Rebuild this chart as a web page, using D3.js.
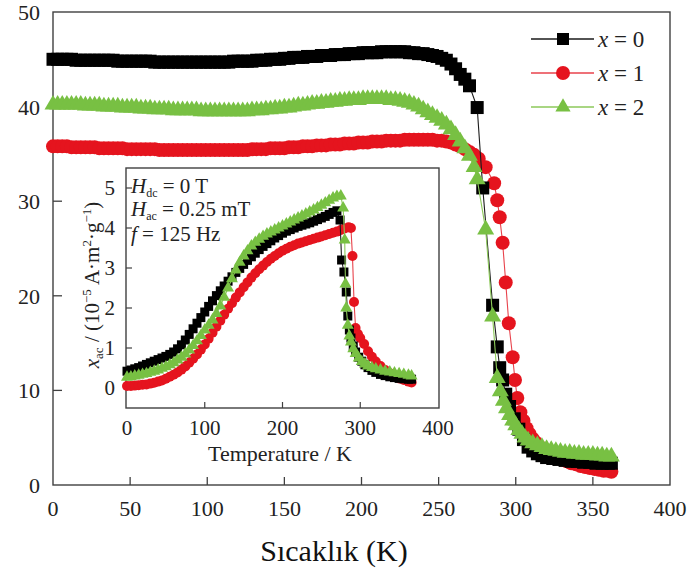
<!DOCTYPE html>
<html>
<head>
<meta charset="utf-8">
<script src="https://cdn.jsdelivr.net/npm/d3@7"></script>
<style>
  body { margin: 0; background: #fff; }
  svg { display: block; }
</style>
</head>
<body>
<script>
// ---- main plot data (temperature in K, value) ----
// shared temperature grid for the flat part, 0..255 K
const mainGrid = [
  0,3,6,9,12,15,18,21,24,27,
  30,33,36,39,42,45,48,51,54,57,
  60,63,66,69,72,75,78,81,84,87,
  90,93,96,99,102,105,108,111,114,117,
  120,123,126,129,132,135,138,141,144,147,
  150,153,156,159,162,165,168,171,174,177,
  180,183,186,189,192,195,198,201,204,207,
  210,213,216,219,222,225,228,231,234,237,
  240,243,246,249,252,255
]
const mainX0 = [
  45.0,45.0,45.0,45.0,45.0,44.9,44.9,44.9,44.9,44.9,
  44.9,44.9,44.9,44.9,44.8,44.8,44.8,44.8,44.8,44.8,
  44.8,44.8,44.7,44.7,44.7,44.7,44.7,44.7,44.7,44.7,
  44.7,44.7,44.7,44.7,44.7,44.7,44.7,44.7,44.7,44.8,
  44.8,44.8,44.8,44.8,44.9,44.9,44.9,45.0,45.0,45.0,
  45.1,45.1,45.2,45.2,45.2,45.3,45.3,45.3,45.4,45.4,
  45.4,45.5,45.5,45.5,45.6,45.6,45.6,45.7,45.7,45.7,
  45.7,45.8,45.8,45.8,45.8,45.8,45.8,45.7,45.7,45.6,
  45.6,45.5,45.4,45.3,45.1,44.9
]
const mainX1 = [
  35.8,35.8,35.8,35.8,35.7,35.7,35.7,35.7,35.7,35.7,
  35.6,35.6,35.6,35.6,35.6,35.6,35.5,35.5,35.5,35.5,
  35.5,35.5,35.5,35.4,35.4,35.4,35.4,35.4,35.4,35.4,
  35.4,35.4,35.4,35.4,35.4,35.4,35.4,35.4,35.4,35.4,
  35.4,35.4,35.4,35.5,35.5,35.5,35.5,35.6,35.6,35.6,
  35.6,35.7,35.7,35.7,35.8,35.8,35.8,35.9,35.9,35.9,
  36.0,36.0,36.0,36.1,36.1,36.1,36.2,36.2,36.2,36.3,
  36.3,36.3,36.4,36.4,36.4,36.4,36.5,36.5,36.5,36.5,
  36.5,36.5,36.5,36.4,36.4,36.3
]
const mainX2 = [
  40.2,40.2,40.2,40.2,40.2,40.2,40.2,40.1,40.1,40.1,
  40.1,40.0,40.0,40.0,40.0,39.9,39.9,39.9,39.9,39.8,
  39.8,39.8,39.7,39.7,39.7,39.7,39.6,39.6,39.6,39.6,
  39.6,39.6,39.5,39.5,39.5,39.5,39.5,39.5,39.5,39.5,
  39.5,39.5,39.5,39.6,39.6,39.6,39.7,39.7,39.8,39.8,
  39.9,39.9,40.0,40.1,40.1,40.2,40.3,40.3,40.4,40.4,
  40.5,40.5,40.6,40.6,40.7,40.7,40.7,40.8,40.8,40.8,
  40.8,40.8,40.8,40.7,40.7,40.6,40.5,40.4,40.2,40.0,
  39.7,39.4,39.1,38.8,38.5,38.1
]
// transition part, own temperatures per sample
const dropT0 = [258,261,264,267,270,275,278.6,285,288,289.6,291.5,293.5,296,299,302,305,308,311,314,317,320,324,328,332,336,340,344,348,352,356,360,362]
const dropV0 = [44.5,44.0,43.4,42.9,42.2,39.9,31.4,19.0,14.6,12.4,11.1,9.6,8.3,7.0,5.9,4.8,4.0,3.6,3.3,3.1,2.9,2.8,2.7,2.6,2.5,2.5,2.4,2.4,2.3,2.3,2.3,2.3]
const dropT1 = [258,261,264,267,270,273,276,280.5,286,288,289.6,291.5,293.5,295.5,298,299.5,301,303,305,307,309,311,313,315,318,321,324,327,330,333,336,339,342,345,348,351,354,357,360,362]
const dropV1 = [36.2,36.0,35.8,35.5,35.2,34.9,34.5,33.6,31.9,30.1,28.3,25.6,21.4,17.1,13.5,11.1,9.2,7.7,6.8,6.0,5.4,4.9,4.5,4.1,3.7,3.4,3.1,2.9,2.7,2.5,2.3,2.2,2.0,1.9,1.8,1.7,1.6,1.5,1.5,1.4]
const dropT2 = [258,261,264,267,270,273,275,280.5,285,288,290,292,294,296,298,300,302,304,306,308,311,314,317,320,323,326,329,332,335,338,341,344,347,350,353,356,359,362]
const dropV2 = [37.6,37.0,36.3,35.6,34.8,33.6,32.3,27.0,17.8,11.3,9.9,8.9,8.1,7.4,6.8,6.3,5.8,5.4,5.0,4.7,4.4,4.2,4.0,3.8,3.7,3.6,3.5,3.4,3.4,3.3,3.3,3.2,3.2,3.2,3.1,3.1,3.0,3.0]

// ---- inset data ----
const insetGrid = [
  0,5,10,15,20,25,30,35,40,45,
  50,55,60,65,70,75,80,85,90,95,
  100,105,110,115,120,125,130,135,140,145,
  150,155,160,165,170,175,180,185,190,195,
  200,205,210,215,220,225,230,235,240,245,
  250,255,260,265,270
]
const insetX0 = [
  0.42,0.45,0.48,0.51,0.55,0.59,0.63,0.67,0.71,0.75,
  0.79,0.84,0.90,0.98,1.08,1.20,1.34,1.48,1.62,1.76,
  1.90,2.04,2.18,2.31,2.43,2.55,2.67,2.78,2.89,2.99,
  3.09,3.19,3.28,3.37,3.46,3.54,3.61,3.68,3.75,3.81,
  3.87,3.92,3.96,4.00,4.04,4.07,4.10,4.13,4.17,4.21,
  4.25,4.29,4.34,4.39,4.43
]
const insetX1 = [
  0.05,0.05,0.06,0.07,0.08,0.09,0.11,0.13,0.16,0.19,
  0.23,0.28,0.33,0.39,0.46,0.54,0.63,0.73,0.84,0.96,
  1.09,1.23,1.38,1.53,1.68,1.83,1.98,2.12,2.26,2.39,
  2.52,2.64,2.76,2.87,2.97,3.06,3.15,3.23,3.30,3.37,
  3.43,3.48,3.53,3.57,3.61,3.64,3.67,3.70,3.73,3.76,
  3.79,3.82,3.85,3.88,3.91
]
const insetX2 = [
  0.27,0.28,0.30,0.32,0.34,0.36,0.39,0.42,0.45,0.49,
  0.53,0.58,0.63,0.70,0.77,0.85,0.95,1.06,1.18,1.31,
  1.45,1.57,1.70,1.86,2.05,2.27,2.50,2.73,2.95,3.14,
  3.30,3.43,3.55,3.64,3.72,3.79,3.85,3.90,3.95,4.00,
  4.05,4.10,4.15,4.20,4.25,4.30,4.35,4.40,4.45,4.51,
  4.57,4.63,4.69,4.75,4.79
]
const insetDropT0 = [274,276,279,282,284,286,288,291,294,298,302,306,310,315,320,326,332,338,344,350,356,362,366]
const insetDropV0 = [4.2,3.2,2.9,2.4,1.8,1.45,1.25,1.05,0.9,0.77,0.67,0.58,0.51,0.44,0.39,0.34,0.31,0.28,0.26,0.24,0.23,0.22,0.22]
const insetDropT1 = [275,280,285,288,290,292,294,297,300,305,310,315,320,326,332,338,344,350,356,362,366]
const insetDropV1 = [3.95,3.99,4.02,4.0,3.3,2.15,1.5,1.35,1.25,1.1,0.92,0.78,0.66,0.55,0.45,0.37,0.3,0.24,0.2,0.16,0.14]
const insetDropT2 = [275,278,280,281,282,284,286,288,291,294,298,302,306,310,315,320,326,332,338,344,350,356,362,366]
const insetDropV2 = [4.8,4.5,3.7,2.6,2.0,1.57,1.3,1.15,0.98,0.86,0.75,0.66,0.6,0.55,0.51,0.48,0.45,0.42,0.4,0.38,0.36,0.34,0.32,0.3]

const legendLabels = ['0', '1', '2']
const mainXTicks = [0, 50, 100, 150, 200, 250, 300, 350, 400]
const mainYTicks = [0, 10, 20, 30, 40, 50]
const insetXTicks = [0, 100, 200, 300, 400]
const insetYTicks = [0, 1, 2, 3, 4, 5]

// ---- styles ----
const styles = [
  {fill: '#000000', line: '#1a1a1a', shape: d3.symbolSquare},
  {fill: '#e5141e', line: '#e8424b', shape: d3.symbolCircle},
  {fill: '#78c043', line: '#8cc85a', shape: d3.symbolTriangle}
]
const mainSizes = [169, Math.PI*49, 125]
const insetSizes = [81, Math.PI*25, 62]
const legendSizes = [144, Math.PI*49, 100]

const zip = (ts, vs) => ts.map((t, i) => [t, vs[i]])
const mainSeries = [
  zip(mainGrid.concat(dropT0), mainX0.concat(dropV0)),
  zip(mainGrid.concat(dropT1), mainX1.concat(dropV1)),
  zip(mainGrid.concat(dropT2), mainX2.concat(dropV2))
]
const insetSeries = [
  zip(insetGrid.concat(insetDropT0), insetX0.concat(insetDropV0)),
  zip(insetGrid.concat(insetDropT1), insetX1.concat(insetDropV1)),
  zip(insetGrid.concat(insetDropT2), insetX2.concat(insetDropV2))
]

const W = 687, H = 581
const serif = '"Liberation Serif", "Times New Roman", serif'
const svg = d3.select('body').append('svg').attr('width', W).attr('height', H)

const axisColor = '#404040'
const tickFont = 22

// main scales
const x = d3.scaleLinear().domain([0, 400]).range([53, 670])
const y = d3.scaleLinear().domain([0, 50]).range([485, 12])

function addText(g) {
  return g.append('text').attr('font-family', serif).attr('fill', '#222')
}

function drawSeries(g, series, xs, ys, sizes) {
  // red under black under green
  const order = [1, 0, 2]
  order.forEach(k => {
    const st = styles[k]
    g.append('path')
      .datum(series[k])
      .attr('d', d3.line().x(d => xs(d[0])).y(d => ys(d[1])))
      .attr('fill', 'none').attr('stroke', st.line).attr('stroke-width', 1.1)
    g.selectAll(null).data(series[k]).enter().append('path')
      .attr('d', d3.symbol().type(st.shape).size(sizes[k]))
      .attr('transform', d => `translate(${xs(d[0])},${ys(d[1])})`)
      .attr('fill', st.fill)
  })
}

// main frame
svg.append('rect')
  .attr('x', x(0)).attr('y', y(50))
  .attr('width', x(400) - x(0)).attr('height', y(0) - y(50))
  .attr('fill', 'none').attr('stroke', axisColor).attr('stroke-width', 1.4)

// main ticks (inward)
svg.append('g').selectAll('line').data(mainXTicks.slice(1, -1)).enter().append('line')
  .attr('x1', d => x(d)).attr('x2', d => x(d))
  .attr('y1', y(0)).attr('y2', y(0) - 8)
  .attr('stroke', axisColor).attr('stroke-width', 1.3)
svg.append('g').selectAll('line').data(mainYTicks.slice(1, -1)).enter().append('line')
  .attr('x1', x(0)).attr('x2', x(0) + 9)
  .attr('y1', d => y(d)).attr('y2', d => y(d))
  .attr('stroke', axisColor).attr('stroke-width', 1.3)

svg.append('g').attr('font-family', serif).selectAll('text').data(mainXTicks).enter().append('text')
  .attr('x', d => x(d)).attr('y', 516)
  .attr('text-anchor', 'middle').attr('font-size', tickFont).attr('fill', '#222')
  .text(d => d)
svg.append('g').attr('font-family', serif).selectAll('text').data(mainYTicks).enter().append('text')
  .attr('x', 40).attr('y', d => y(d) + 8)
  .attr('text-anchor', 'end').attr('font-size', tickFont).attr('fill', '#222')
  .text(d => d)

addText(svg)
  .attr('x', 334).attr('y', 561)
  .attr('text-anchor', 'middle').attr('font-size', 30).attr('fill', '#111')
  .text('Sıcaklık (K)')

// main data
drawSeries(svg.append('g'), mainSeries, x, y, mainSizes)

// legend
const legend = svg.append('g')
const legendRows = [39, 73, 107]
legendLabels.forEach((lab, i) => {
  const st = styles[i]
  const row = legend.append('g').attr('transform', `translate(0,${legendRows[i]})`)
  row.append('line').attr('x1', 531).attr('x2', 594).attr('y1', 0).attr('y2', 0)
    .attr('stroke', st.line).attr('stroke-width', 1.3)
  row.append('path')
    .attr('d', d3.symbol().type(st.shape).size(legendSizes[i]))
    .attr('transform', 'translate(563,0)').attr('fill', st.fill)
  const t = addText(row).attr('x', 598).attr('y', 8).attr('font-size', 23)
  t.append('tspan').attr('font-style', 'italic').text('x')
  t.append('tspan').text(' = ' + lab)
})

// ---- inset ----
const xi = d3.scaleLinear().domain([0, 400]).range([127, 438])
const yi = d3.scaleLinear().domain([-0.5, 5.5]).range([408, 168])

svg.append('rect')
  .attr('x', 126).attr('y', yi(5.5))
  .attr('width', 439 - 126).attr('height', yi(-0.5) - yi(5.5))
  .attr('fill', '#fff').attr('stroke', axisColor).attr('stroke-width', 1.4)

svg.append('g').selectAll('line').data(insetXTicks.slice(1, -1)).enter().append('line')
  .attr('x1', d => xi(d)).attr('x2', d => xi(d))
  .attr('y1', yi(-0.5)).attr('y2', yi(-0.5) - 6)
  .attr('stroke', axisColor).attr('stroke-width', 1.2)
svg.append('g').selectAll('line').data(insetYTicks).enter().append('line')
  .attr('x1', 126).attr('x2', 132)
  .attr('y1', d => yi(d)).attr('y2', d => yi(d))
  .attr('stroke', axisColor).attr('stroke-width', 1.2)

svg.append('g').attr('font-family', serif).selectAll('text').data(insetXTicks).enter().append('text')
  .attr('x', d => xi(d)).attr('y', 435)
  .attr('text-anchor', 'middle').attr('font-size', 21).attr('fill', '#222')
  .text(d => d)
svg.append('g').attr('font-family', serif).selectAll('text').data(insetYTicks).enter().append('text')
  .attr('x', 115).attr('y', d => yi(d) + 7)
  .attr('text-anchor', 'end').attr('font-size', 21).attr('fill', '#222')
  .text(d => d)

addText(svg)
  .attr('x', 280).attr('y', 461)
  .attr('text-anchor', 'middle').attr('font-size', 22)
  .text('Temperature / K')

// rotated y label of the inset
const yl = addText(svg)
  .attr('transform', 'translate(99,285) rotate(-90)')
  .attr('text-anchor', 'middle').attr('font-size', 21)
yl.append('tspan').attr('font-style', 'italic').text('x')
yl.append('tspan').attr('font-size', 13).attr('dy', 4).text('ac')
yl.append('tspan').attr('dy', -4).text(' / (10')
yl.append('tspan').attr('font-size', 13).attr('dy', -8).text('−5')
yl.append('tspan').attr('dy', 8).text(' A·m')
yl.append('tspan').attr('font-size', 13).attr('dy', -8).text('2')
yl.append('tspan').attr('dy', 8).text('·g')
yl.append('tspan').attr('font-size', 13).attr('dy', -8).text('−1')
yl.append('tspan').attr('dy', 8).text(')')

// annotations
const notes = [
  {main: 'H', sub: 'dc', rest: ' = 0 T', y: 193},
  {main: 'H', sub: 'ac', rest: ' = 0.25 mT', y: 216},
  {main: 'f', sub: '', rest: ' = 125 Hz', y: 241}
]
notes.forEach(n => {
  const t = addText(svg).attr('x', 131).attr('y', n.y).attr('font-size', 21)
  t.append('tspan').attr('font-style', 'italic').text(n.main)
  if (n.sub) {
    t.append('tspan').attr('font-size', 12).attr('dy', 4).text(n.sub)
    t.append('tspan').attr('dy', -4).text(n.rest)
  } else {
    t.append('tspan').text(n.rest)
  }
})

drawSeries(svg.append('g'), insetSeries, xi, yi, insetSizes)
</script>
</body>
</html>
